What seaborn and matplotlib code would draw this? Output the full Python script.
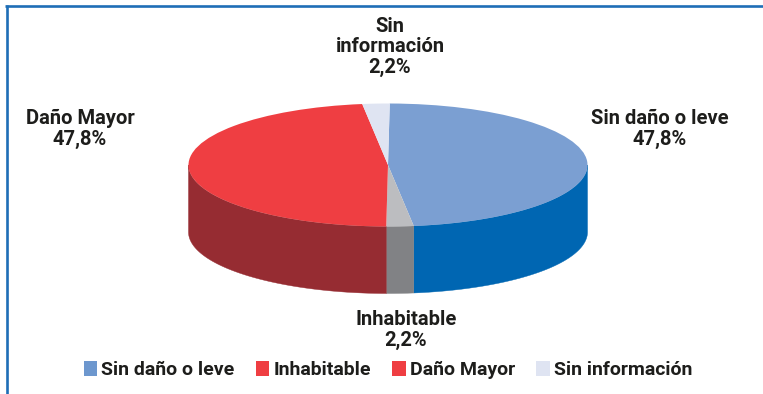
import numpy as np
import matplotlib
matplotlib.use("Agg")
import matplotlib.pyplot as plt
from matplotlib.patches import Polygon, Patch
import seaborn as sns

# Data
categories = ["Sin daño o leve", "Inhabitable", "Daño Mayor", "Sin información"]
values = [47.8, 2.2, 47.8, 2.2]

# Colours: top face, side wall, legend key
top_colors = ["#7b9fd2", "#bcbdc0", "#ef3e42", "#dfe4f2"]
side_colors = ["#0066b2", "#818285", "#962c32", "#b9c0d6"]
legend_colors = ["#6d97ce", "#ef3e42", "#ef3e42", "#dfe4f2"]

sns.set_theme(style="white")
plt.rcParams["font.family"] = ["Roboto", "DejaVu Sans"]

W, H = 763, 394
fig = plt.figure(figsize=(W / 100, H / 100), dpi=100)
fig.patch.set_facecolor("white")

# Background axes in pixel coordinates for frame and labels
bg = fig.add_axes([0, 0, 1, 1])
bg.set_xlim(0, W)
bg.set_ylim(H, 0)
bg.axis("off")

# Pie axes: unit circle squashed into an ellipse
cx, cy, rx, ry = 388, 165, 199.5, 61.5
depth = 67 / ry
ax = fig.add_axes([0, 0, 1, 1], zorder=1)
ax.patch.set_alpha(0)
wedges, _ = ax.pie(values, colors=top_colors, startangle=89.5, counterclock=False,
                   radius=1.0, center=(0, 0), wedgeprops=dict(linewidth=0, zorder=3))
ax.set_aspect("auto")
ax.set_xlim(-cx / rx, (W - cx) / rx)
ax.set_ylim((cy - H) / ry, cy / ry)
ax.axis("off")

# Side walls of the cylinder: only the front (lower) half is visible
for w, sc in zip(wedges, side_colors):
    t1, t2 = w.theta1, w.theta2
    for k in (-360, 0, 360):
        lo = max(t1, 180 + k)
        hi = min(t2, 360 + k)
        if hi <= lo:
            continue
        t = np.radians(np.linspace(lo, hi, 80))
        top = np.column_stack([np.cos(t), np.sin(t)])
        bot = np.column_stack([np.cos(t), np.sin(t) - depth])[::-1]
        ax.add_patch(Polygon(np.vstack([top, bot]), closed=True,
                             facecolor=sc, edgecolor=sc, linewidth=0.3, zorder=2))

# Frame lines
frame_color = "#1e6eb6"
bg.plot([5, W], [5.5, 5.5], color=frame_color, lw=1.9, solid_capstyle="butt")
bg.plot([6.5, 6.5], [4.5, H], color=frame_color, lw=1.9, solid_capstyle="butt")

# Value labels
def pct(v):
    return f"{v:.1f}".replace(".", ",") + "%"

text_color = "#1d1d1b"
fs = 14.5
label_pos = {
    "Sin daño o leve": (660, 129),
    "Inhabitable": (406, 330),
    "Daño Mayor": (80, 129),
    "Sin información": (390, 47),
}
label_text = {
    "Sin daño o leve": "Sin daño o leve",
    "Inhabitable": "Inhabitable",
    "Daño Mayor": "Daño Mayor",
    "Sin información": "Sin\ninformación",
}
for cat, v in zip(categories, values):
    x, y = label_pos[cat]
    bg.text(x, y, f"{label_text[cat]}\n{pct(v)}", ha="center", va="center",
            fontsize=fs, fontweight="bold", color=text_color, linespacing=1.12)

# Legend
handles = [Patch(facecolor=c, edgecolor="none") for c in legend_colors]
fig.legend(handles, categories, loc="center", ncol=4,
           bbox_to_anchor=(388 / W, 1 - 370 / H), frameon=False,
           prop=dict(size=14, weight="bold"), labelcolor=text_color,
           handlelength=0.7, handleheight=0.8, handletextpad=0.2,
           columnspacing=1.1, borderpad=0, borderaxespad=0)

fig.savefig("out.png", dpi=100, facecolor="white")
